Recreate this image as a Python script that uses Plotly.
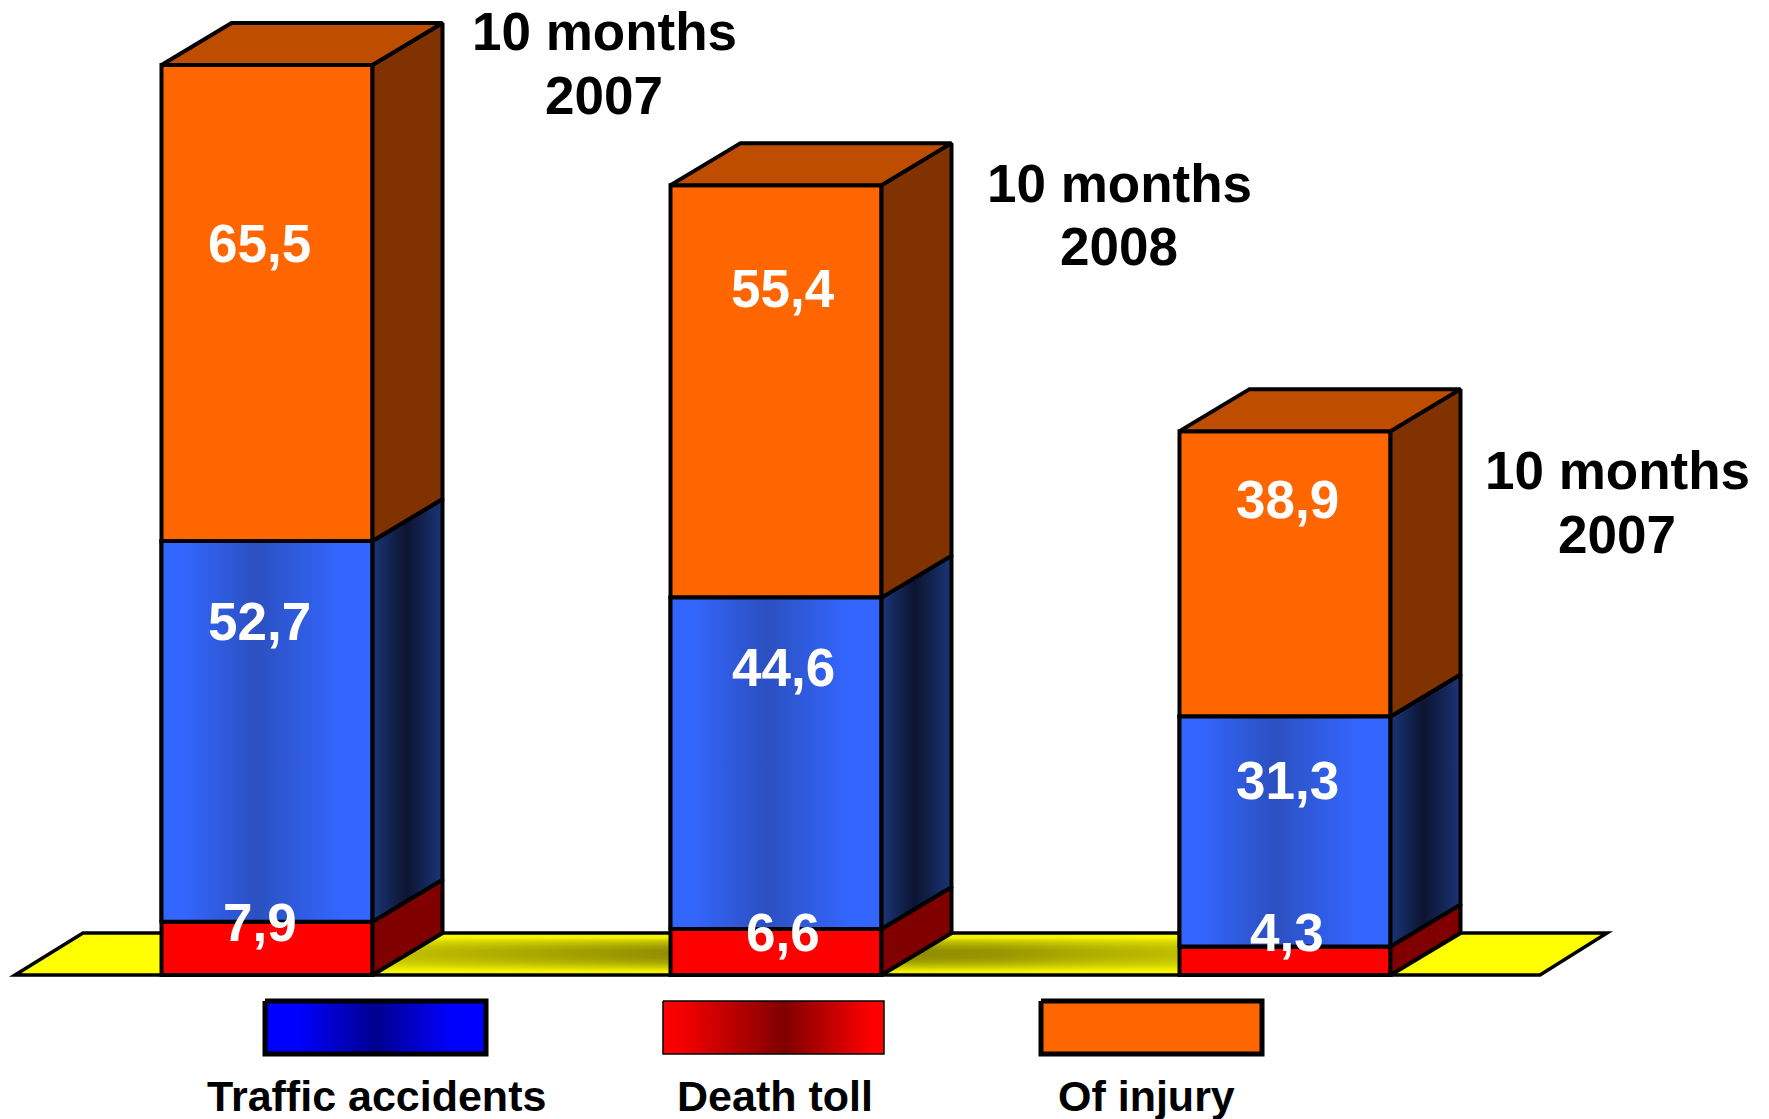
import plotly.graph_objects as go

# ---- data ----
positions = [0, 1, 2]
# drawn segment heights (axis units)
death_toll = [7.3, 6.3, 3.9]
traffic_accidents = [52.15, 45.4, 31.5]
of_injury = [65.2, 56.5, 39.1]
# printed figures
death_labels = ["7,9", "6,6", "4,3"]
traffic_labels = ["52,7", "44,6", "31,3"]
injury_labels = ["65,5", "55,4", "38,9"]
period_lines = [("10 months", "2007"), ("10 months", "2008"), ("10 months", "2007")]
legend_names = ["Traffic accidents", "Death toll", "Of injury"]

# ---- page geometry / style ----
W, H = 1769, 1119
X0_PX, X_STEP = 267.0, 509.0
Y0_PX, Y_STEP = 975.0, 7.3
BAR_W = 211 / X_STEP
DX = 70 / X_STEP
DY = 42 / Y_STEP
LW = 4
FONT = "Liberation Sans"


def ux(px):
    return (px - X0_PX) / X_STEP


def uy(py):
    return (Y0_PX - py) / Y_STEP


fig = go.Figure()


def poly(xs, ys, color=None, grad=None, lw=LW):
    kw = dict(fillgradient=dict(type="horizontal", colorscale=grad)) if grad else dict(fillcolor=color)
    fig.add_trace(go.Scatter(x=xs + xs[:1], y=ys + ys[:1], mode="lines", fill="toself",
                             line=dict(color="black", width=lw), hoverinfo="skip",
                             showlegend=False, **kw))


# floor shadows between the bars (the cell grid stays inside the floor outline)
shade_rows_px = [937.1, 941.3, 945.6, 949.8, 954, 958.2, 962.4, 966.7, 970.9]
shade_rows = [0.1, 0.55, 0.85, 1, 1, 0.95, 0.8, 0.45, 0.1]
gaps = [([400, 495, 590, 685], [0.55, 0.7, 0.85, 1.0]),
        ([900, 995, 1090, 1185], [1.0, 0.92, 0.7, 0.55])]
for xs_px, cols in gaps:
    fig.add_trace(go.Heatmap(x=[ux(v) for v in xs_px], y=[uy(v) for v in shade_rows_px],
                             z=[[r * c for c in cols] for r in shade_rows],
                             zmin=0, zmax=1, zsmooth="best", showscale=False, hoverinfo="skip",
                             colorscale=[[0, "#FFFF00"], [1, "#8E8C00"]]))

# front faces
for vals, base, col in [(death_toll, [0, 0, 0], "#FF0000"),
                        (traffic_accidents, death_toll, "#3366FF"),
                        (of_injury, [a + b for a, b in zip(death_toll, traffic_accidents)], "#FF6600")]:
    fig.add_trace(go.Bar(x=positions, y=vals, base=base, width=BAR_W, hoverinfo="skip",
                         marker=dict(color=col, line=dict(color="black", width=LW)), showlegend=False))

blue_face = [[0, "#3366FF"], [0.1, "#3366FF"], [0.45, "#2B50C0"], [0.85, "#3366FF"], [1, "#3366FF"]]
blue_side = [[0, "#1B3578"], [0.48, "#0C1430"], [1, "#1B3578"]]

for i, xc in enumerate(positions):
    l, r = xc - BAR_W / 2, xc + BAR_W / 2
    y1 = death_toll[i]
    y2 = y1 + traffic_accidents[i]
    y3 = y2 + of_injury[i]
    poly([l, r, r, l], [y1, y1, y2, y2], grad=blue_face)
    for lo, hi, kw in [(0, y1, dict(color="#800000")), (y1, y2, dict(grad=blue_side)), (y2, y3, dict(color="#803300"))]:
        poly([r, r + DX, r + DX, r], [lo, lo + DY, hi + DY, hi], **kw)
    poly([l, r, r + DX, l + DX], [y3, y3, y3 + DY, y3 + DY], color="#BF4D00")

# legend swatches
poly([ux(265), ux(486), ux(486), ux(265)], [uy(1001), uy(1001), uy(1054), uy(1054)],
     grad=[[0, "#0000FF"], [0.15, "#0000FF"], [0.5, "#000090"], [0.85, "#0000FF"], [1, "#0000FF"]], lw=5)
poly([ux(663), ux(884), ux(884), ux(663)], [uy(1001), uy(1001), uy(1054), uy(1054)],
     grad=[[0, "#FF0000"], [0.1, "#F00000"], [0.55, "#800000"], [0.95, "#FF0000"], [1, "#FF0000"]], lw=1.5)
poly([ux(1041), ux(1262), ux(1262), ux(1041)], [uy(1001), uy(1001), uy(1054), uy(1054)], color="#FF6600", lw=5)

ann = []


def text(s, xp, yp, size, color="black"):
    ann.append(dict(text=s, x=xp / W, y=1 - yp / H, xref="paper", yref="paper", showarrow=False,
                    xanchor="center", yanchor="middle",
                    font=dict(family=FONT, size=size, color=color, weight=700)))


label_x = [259.5, 783, 1287]
for i in range(3):
    text(injury_labels[i], label_x[i], [243.2, 288.5, 500][i], 53, "white")
    text(traffic_labels[i], label_x[i], [621, 667.5, 780][i], 53, "white")
    text(death_labels[i], label_x[i], [922.5, 932.5, 932][i], 53, "white")

period_x = [604, 1119, 1617]
period_y = [32, 183, 470]
period_y2 = [95, 246, 534]
for i in range(3):
    text(period_lines[i][0], period_x[i], period_y[i], 53)
    text(period_lines[i][1], period_x[i], period_y2[i], 53)

for name, xp in zip(legend_names, [376.5, 775, 1146]):
    text(name, xp, 1096, 43)

floor_path = "M {} {} L {} {} L {} {} L {} {} Z".format(
    ux(15), uy(975), ux(1540), uy(975), ux(1607), uy(933), ux(83), uy(933))

fig.update_layout(
    width=W, height=H, margin=dict(l=0, r=0, t=0, b=0), autosize=False,
    paper_bgcolor="white", plot_bgcolor="white", barmode="overlay", showlegend=False,
    xaxis=dict(range=[ux(0), ux(W)], visible=False, fixedrange=True),
    yaxis=dict(range=[uy(H), uy(0)], visible=False, fixedrange=True),
    annotations=ann,
    shapes=[dict(type="path", path=floor_path, xref="x", yref="y", layer="below",
                 fillcolor="#FFFF00", line=dict(color="black", width=3.5))],
)

fig.write_html("out.html", config={"displayModeBar": False},
               post_script="document.body.style.margin='0';document.documentElement.style.overflow='hidden';")
